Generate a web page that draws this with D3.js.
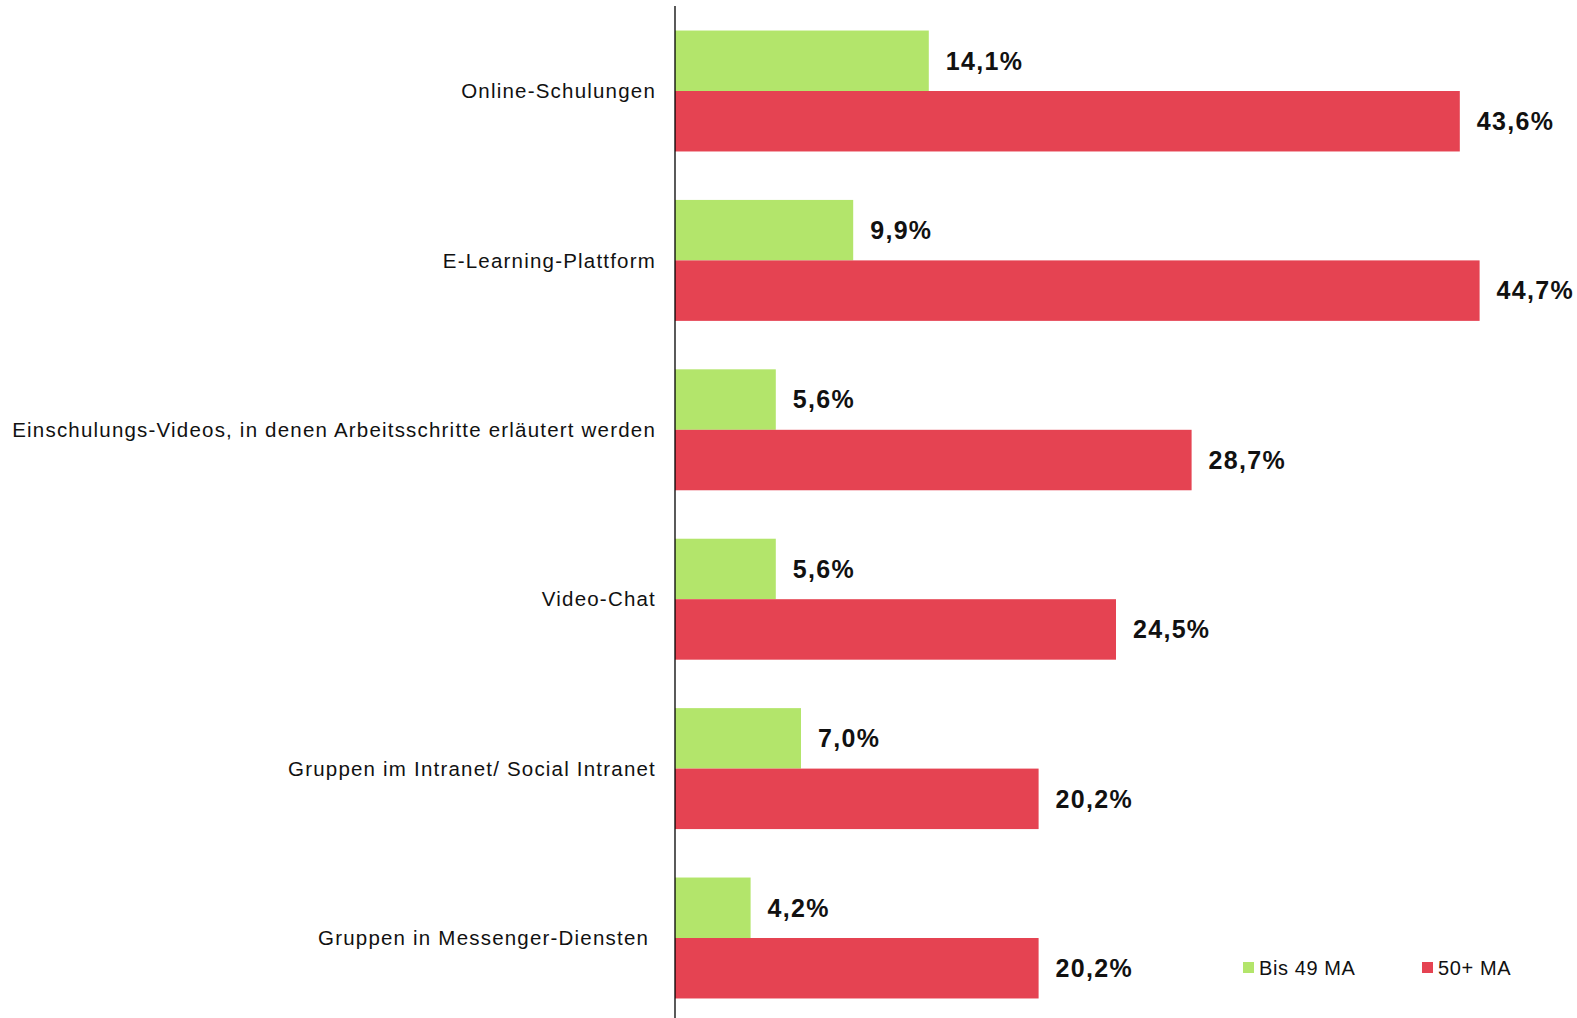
<!DOCTYPE html>
<html>
<head>
<meta charset="utf-8">
<script src="https://cdn.jsdelivr.net/npm/d3@7"></script>
<style>
  html, body { margin: 0; padding: 0; background: #fff; }
  svg text { font-family: "Liberation Sans", Arial, sans-serif; }
</style>
</head>
<body>
<svg id="chart" width="1577" height="1018"></svg>
<script>
// Categories (top to bottom) and the two series, in percent
const categories = [
  "Online-Schulungen",
  "E-Learning-Plattform",
  "Einschulungs-Videos, in denen Arbeitsschritte erläutert werden",
  "Video-Chat",
  "Gruppen im Intranet/ Social Intranet",
  "Gruppen in Messenger-Diensten "
];
const seriesNames = ["Bis 49 MA", "50+ MA"];
const bis49 = [14.1, 9.9, 5.6, 5.6, 7.0, 4.2];
const ab50 = [43.6, 44.7, 28.7, 24.5, 20.2, 20.2];
const seriesColors = ["#b3e56b", "#e54352"];

const svg = d3.select("#chart");
const axisX = 675;

const x = d3.scaleLinear().domain([0, 10]).range([axisX, axisX + 180]);
const y = d3.scaleBand()
  .domain(categories)
  .range([6.3, 1022.7])
  .paddingInner(0.286)
  .paddingOuter(0.143);
const sub = d3.scaleBand().domain(seriesNames).range([0, y.bandwidth()]);

const fmt = v => d3.format(".1f")(v).replace(".", ",") + "%";

const rows = categories.map((c, i) => ({ cat: c, vals: [bis49[i], ab50[i]] }));

const group = svg.selectAll("g.cat").data(rows).join("g")
  .attr("class", "cat")
  .attr("transform", d => `translate(0,${y(d.cat)})`);

group.selectAll("rect").data(d => d.vals.map((v, k) => ({ v, k }))).join("rect")
  .attr("x", x(0))
  .attr("y", d => sub(seriesNames[d.k]))
  .attr("width", d => x(d.v) - x(0))
  .attr("height", sub.bandwidth())
  .attr("fill", d => seriesColors[d.k]);

group.selectAll("text.val").data(d => d.vals.map((v, k) => ({ v, k }))).join("text")
  .attr("class", "val")
  .attr("x", d => x(d.v) + 17)
  .attr("y", d => sub(seriesNames[d.k]) + sub.bandwidth() / 2)
  .attr("dy", "0.35em")
  .attr("font-size", 25)
  .attr("font-weight", "bold")
  .attr("letter-spacing", "1.3px")
  .attr("fill", "#111")
  .text(d => fmt(d.v));

// Category labels, right aligned against the axis
svg.selectAll("text.cat").data(categories).join("text")
  .attr("class", "cat")
  .attr("x", axisX - 19)
  .attr("y", d => y(d) + y.bandwidth() / 2)
  .attr("dy", "0.35em")
  .attr("text-anchor", "end")
  .attr("font-size", 20.5)
  .attr("letter-spacing", "1.2px")
  .style("white-space", "pre")
  .attr("fill", "#111")
  .text(d => d);

// Vertical axis line
svg.append("line")
  .attr("x1", axisX).attr("x2", axisX)
  .attr("y1", 6).attr("y2", 1018)
  .attr("stroke", "#000").attr("stroke-width", 1.3);

// Legend
const legendX = [1243, 1422];
const legend = svg.selectAll("g.legend").data(seriesNames).join("g")
  .attr("class", "legend")
  .attr("transform", (d, i) => `translate(${legendX[i]},962)`);
legend.append("rect").attr("width", 11).attr("height", 11)
  .attr("fill", (d, i) => seriesColors[i]);
legend.append("text").attr("x", 16).attr("y", 5.5).attr("dy", "0.35em")
  .attr("font-size", 20).attr("letter-spacing", "0.6px")
  .attr("fill", "#111").text(d => d);
</script>
</body>
</html>
